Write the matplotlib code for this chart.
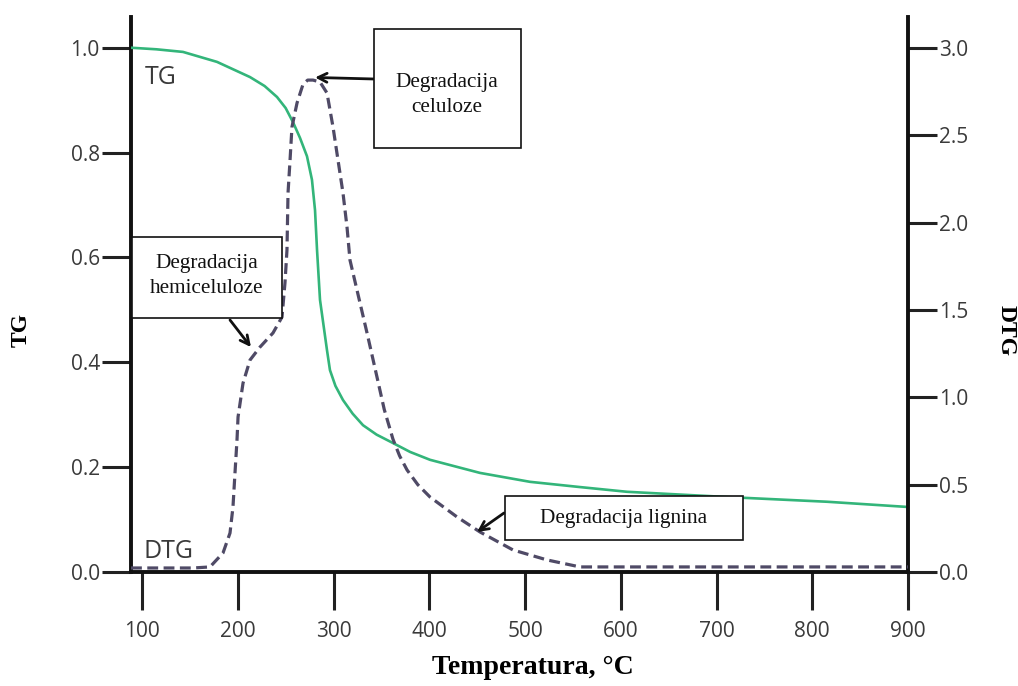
import matplotlib
matplotlib.use("Agg")
import matplotlib.pyplot as plt
from matplotlib.patches import Rectangle

# ---- data ----
tg_temp = [88.5, 115.0, 142.8, 178.3, 212.8, 228.0, 241.0, 250.0, 257.7, 265.0, 272.3,
           277.5, 280.7, 282.8, 285.9, 293.2, 296.3, 302.0, 309.9, 320.0, 330.8, 345.0,
           362.1, 380.0, 400.8, 430.0, 453.0, 505.2, 557.4, 606.5, 711.0, 815.4, 900.0]
tg_vals = [1.000, 0.997, 0.992, 0.973, 0.944, 0.927, 0.906, 0.885, 0.858, 0.828, 0.793,
           0.748, 0.690, 0.614, 0.519, 0.423, 0.385, 0.355, 0.328, 0.302, 0.280, 0.262,
           0.246, 0.229, 0.214, 0.200, 0.189, 0.172, 0.162, 0.153, 0.143, 0.134, 0.124]

dtg_temp = [88.5, 153.3, 171.0, 184.6, 191.9, 195.0, 197.1, 199.2, 200.3, 205.5, 212.8,
            223.2, 236.8, 246.2, 249.3, 251.4, 252.5, 254.6, 256.6, 261.9, 268.1, 273.0,
            278.6, 285.9, 293.2, 299.5, 304.7, 309.9, 314.1, 317.2, 324.5, 335.0, 345.4,
            353.0, 362.1, 369.0, 376.8, 388.0, 400.8, 429.0, 453.0, 487.5, 523.0, 557.4,
            682.8, 900.0]
dtg_vals = [0.023, 0.023, 0.029, 0.109, 0.223, 0.372, 0.566, 0.755, 0.887, 1.081, 1.213,
            1.287, 1.368, 1.459, 1.654, 1.842, 2.169, 2.357, 2.546, 2.684, 2.790, 2.815,
            2.815, 2.804, 2.741, 2.546, 2.357, 2.169, 1.974, 1.785, 1.614, 1.368, 1.116,
            0.930, 0.760, 0.665, 0.584, 0.500, 0.429, 0.315, 0.229, 0.126, 0.069, 0.029,
            0.029, 0.029]

x_ticks = [100, 200, 300, 400, 500, 600, 700, 800, 900]
tg_ticks = [0.0, 0.2, 0.4, 0.6, 0.8, 1.0]
dtg_ticks = [0.0, 0.5, 1.0, 1.5, 2.0, 2.5, 3.0]

ann_cel_text = "Degradacija\nceluloze"
ann_cel_xy = (280.7, 2.83)
ann_hemi_text = "Degradacija\nhemiceluloze"
ann_hemi_xy = (213.8, 1.287)
ann_lig_text = "Degradacija lignina"
ann_lig_xy = (449.9, 0.229)

# ---- figure ----
W, H = 1018, 686
fig = plt.figure(figsize=(W / 100, H / 100), dpi=100)
L, R, B, T = 131, 908, 572, 17
ax = fig.add_axes([L / W, 1 - B / H, (R - L) / W, (B - T) / H])
ax2 = ax.twinx()

tick_font = dict(family=["Open Sans", "DejaVu Sans"], size=15, color="#3a3a3a")
serif = ["Liberation Serif", "DejaVu Serif"]

green = "#33b57a"
purple = "#4f4a66"

ax.plot(tg_temp, tg_vals, color=green, lw=1.9, solid_capstyle="round",
        solid_joinstyle="round", zorder=3)
ax2.plot(dtg_temp, dtg_vals, color=purple, lw=2.3, dashes=(3.4, 1.7),
         dash_joinstyle="round", zorder=3)

ax.set_xlim(88.5, 900)
ax.set_ylim(0, 1.0586)
ax2.set_ylim(0, 3.176)

ax.set_xticks(x_ticks)
ax.set_yticks(tg_ticks)
ax2.set_yticks(dtg_ticks)
ax.set_xticklabels([str(v) for v in x_ticks], fontdict=tick_font)
ax.set_yticklabels([f"{v:.1f}" for v in tg_ticks], fontdict=tick_font)
ax2.set_yticklabels([f"{v:.1f}" for v in dtg_ticks], fontdict=tick_font)

for a in (ax, ax2):
    a.spines["top"].set_visible(False)
    for s in a.spines.values():
        s.set_linewidth(2.8)
        s.set_color("#111111")
ax.spines["right"].set_visible(False)
ax2.spines["left"].set_visible(False)
ax2.spines["bottom"].set_visible(False)

ax.tick_params(axis="x", direction="out", length=27, width=2.2, pad=8, color="#222222")
ax.tick_params(axis="y", direction="out", length=21, width=2.2, pad=1.5, color="#222222")
ax2.tick_params(axis="y", direction="out", length=21, width=2.2, pad=1.5, color="#222222")

# axis labels
ax.set_xlabel("Temperatura, °C", family=serif, fontweight="bold", fontsize=20)
ax.xaxis.set_label_coords((533 - L) / (R - L), (B - 668) / (B - T))
ax.xaxis.label.set_verticalalignment("center")
ax.set_ylabel("TG", family=serif, fontweight="bold", fontsize=17)
ax.yaxis.set_label_coords((21 - L) / (R - L), (B - 330) / (B - T))
ax.yaxis.label.set_verticalalignment("center")
ax2.set_ylabel("DTG", family=serif, fontweight="bold", fontsize=17, rotation=270)
ax2.yaxis.set_label_coords((1006 - L) / (R - L), (B - 330) / (B - T))
ax2.yaxis.label.set_verticalalignment("center")

# curve labels
curve_font = dict(family=["Open Sans", "DejaVu Sans"], fontsize=18, color="#3a3a3a")
fig.text(145 / W, 1 - 77 / H, "TG", ha="left", va="center", **curve_font)
fig.text(143 / W, 1 - 551 / H, "DTG", ha="left", va="center", **curve_font)

# annotation boxes (pixel layout converted to figure fraction)
def box(x0, y0, x1, y1):
    r = Rectangle((x0 / W, 1 - y1 / H), (x1 - x0) / W, (y1 - y0) / H,
                  transform=fig.transFigure, facecolor="white", edgecolor="#111111",
                  lw=1.2, zorder=5)
    fig.patches.append(r)

box(374, 29, 521, 148)
box(132, 237, 282, 318)
box(505, 496, 743, 540)

ann_font = dict(family=serif, fontsize=15.3, color="#111111", linespacing=1.4)
fig.text(447 / W, 1 - 95 / H, ann_cel_text, ha="center", va="center", zorder=6, **ann_font)
fig.text(207 / W, 1 - 276 / H, ann_hemi_text, ha="center", va="center", zorder=6, **ann_font)
fig.text(624 / W, 1 - 519 / H, ann_lig_text, ha="center", va="center", zorder=6, **ann_font)

arrow = dict(arrowstyle="->", color="#111111", lw=2.0, mutation_scale=16,
             shrinkA=0, shrinkB=0)
ax2.annotate("", xy=ann_cel_xy, xycoords="data",
             xytext=(374 / W, 1 - 79 / H), textcoords="figure fraction",
             arrowprops=arrow, zorder=6)
ax2.annotate("", xy=ann_hemi_xy, xycoords="data",
             xytext=(230 / W, 1 - 320 / H), textcoords="figure fraction",
             arrowprops=arrow, zorder=6)
ax2.annotate("", xy=ann_lig_xy, xycoords="data",
             xytext=(504 / W, 1 - 513 / H), textcoords="figure fraction",
             arrowprops=arrow, zorder=6)

fig.savefig("out.png", dpi=100)
